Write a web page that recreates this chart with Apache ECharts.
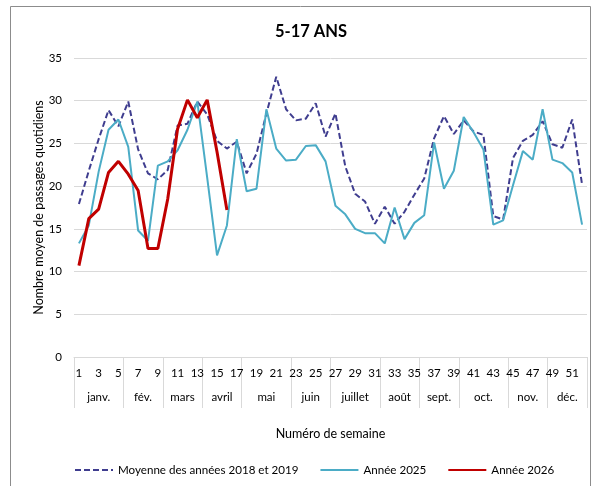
<!DOCTYPE html>
<html>
<head>
<meta charset="utf-8">
<script src="https://cdn.jsdelivr.net/npm/echarts@6/dist/echarts.min.js"></script>
<style>
  html, body { margin: 0; padding: 0; background: #fff; }
  #chart { width: 593px; height: 486px; }
</style>
</head>
<body>
<div id="chart"></div>
<script>
// semaines 1..52
var weeks = []
for (var i = 1; i <= 52; i++) weeks.push(String(i))

// moyenne des années 2018 et 2019
var avg1819 = [17.9, 21.8, 25.5, 28.9, 27.0, 29.9, 24.3, 21.5, 20.8, 21.9,
  27.1, 27.3, 29.9, 28.4, 25.3, 24.4, 25.2, 21.5, 23.8, 28.5,
  32.8, 29.0, 27.7, 27.9, 29.7, 25.8, 28.5, 22.3, 19.1, 18.2,
  15.6, 17.6, 15.6, 17.0, 19.0, 20.9, 25.6, 28.2, 26.1, 27.7,
  26.4, 26.0, 16.5, 16.1, 23.3, 25.3, 26.0, 27.6, 24.9, 24.5,
  27.8, 20.2]

var y2025 = [13.3, 15.4, 21.7, 26.6, 27.8, 24.6, 14.8, 13.6, 22.4, 22.9,
  24.2, 26.6, 29.9, 21.0, 11.9, 15.4, 25.5, 19.4, 19.7, 29.0,
  24.4, 23.0, 23.1, 24.7, 24.8, 22.9, 17.7, 16.7, 15.0, 14.5,
  14.5, 13.3, 17.5, 13.8, 15.7, 16.6, 25.1, 19.7, 21.8, 28.1,
  26.3, 24.3, 15.5, 16.0, 20.1, 24.1, 23.1, 29.0, 23.1, 22.7,
  21.6, 15.5]

var y2026 = [10.7, 16.2, 17.3, 21.6, 22.9, 21.4, 19.5, 12.7, 12.7, 18.5,
  26.7, 30.1, 28.0, 30.1, 24.0, 17.2]

// mois et première semaine de chaque mois
var months = ['janv.', 'fév.', 'mars', 'avril', 'mai', 'juin', 'juillet', 'août', 'sept.', 'oct.', 'nov.', 'déc.']
var monthFirstWeek = [1, 6, 10, 14, 18, 23, 27, 32, 36, 40, 45, 49, 53]

var yTicks = [0, 5, 10, 15, 20, 25, 30, 35]

var font = 'Lato, "Open Sans", sans-serif'

// bornes et centres des mois (en unités de semaine)
var monthBounds = monthFirstWeek.map(function (w) { return w - 0.5 })
var monthCenters = []
for (var m = 0; m < months.length; m++) {
  monthCenters.push((monthFirstWeek[m] + monthFirstWeek[m + 1] - 1) / 2)
}

var chart = echarts.init(document.getElementById('chart'))
chart.setOption({
  animation: false,
  textStyle: { fontFamily: font },
  title: {
    text: '5-17 ANS',
    left: 270,
    top: 18,
    textStyle: { fontFamily: font, fontSize: 16.5, fontWeight: 'bold', color: '#000' }
  },
  graphic: [{
    type: 'rect',
    shape: { x: 10.5, y: 6.5, width: 580, height: 500 },
    style: { fill: null, stroke: '#8c8c8c', lineWidth: 1 },
    silent: true
  }],
  legend: {
    left: 74,
    top: 464,
    width: 540,
    padding: 0,
    itemWidth: 38,
    itemHeight: 10,
    itemGap: 21,
    itemStyle: { opacity: 0 },
    textStyle: { fontFamily: font, fontSize: 11.6, color: '#000' },
    data: ['Moyenne des années 2018 et 2019', 'Année 2025', 'Année 2026']
  },
  grid: { left: 74, right: 6, top: 58, bottom: 129, containLabel: false },
  xAxis: [{
    type: 'category',
    data: weeks,
    boundaryGap: true,
    name: 'Numéro de semaine',
    nameLocation: 'middle',
    nameGap: 70,
    nameTextStyle: { fontFamily: font, fontSize: 12.5, color: '#000' },
    axisLine: { show: true, lineStyle: { color: '#d9d9d9', width: 1 } },
    axisTick: { show: false },
    axisLabel: { interval: 1, margin: 10, fontFamily: font, fontSize: 11.5, color: '#000' },
    splitLine: { show: false }
  }, {
    type: 'value',
    min: 0.5,
    max: 52.5,
    position: 'bottom',
    axisLine: { show: false },
    axisTick: {
      show: true,
      customValues: monthBounds,
      length: 51,
      lineStyle: { color: '#d9d9d9', width: 1 }
    },
    axisLabel: {
      show: true,
      customValues: monthCenters,
      margin: 34,
      fontFamily: font,
      fontSize: 11.5,
      color: '#000',
      formatter: function (v) {
        var k = monthCenters.indexOf(v)
        return k >= 0 ? months[k] : ''
      }
    },
    splitLine: { show: false }
  }],
  yAxis: {
    type: 'value',
    min: yTicks[0],
    max: yTicks[yTicks.length - 1],
    interval: 5,
    name: 'Nombre moyen de passages quotidiens',
    nameLocation: 'middle',
    nameGap: 29,
    nameMoveOverlap: false,
    nameTextStyle: { fontFamily: font, fontSize: 12.5, color: '#000' },
    axisLine: { show: false },
    axisTick: { show: false },
    axisLabel: { margin: 12, fontFamily: font, fontSize: 11.5, color: '#000' },
    splitLine: { lineStyle: { color: '#d9d9d9', width: 1 } }
  },
  series: [{
    name: 'Moyenne des années 2018 et 2019',
    type: 'line',
    xAxisIndex: 0,
    data: avg1819,
    symbol: 'none',
    color: '#3f3d8f',
    lineStyle: { color: '#3f3d8f', width: 2, type: [6, 3] }
  }, {
    name: 'Année 2025',
    type: 'line',
    xAxisIndex: 0,
    data: y2025,
    symbol: 'none',
    color: '#4bacc6',
    lineStyle: { color: '#4bacc6', width: 2 }
  }, {
    name: 'Année 2026',
    type: 'line',
    xAxisIndex: 0,
    data: y2026,
    symbol: 'none',
    color: '#c00000',
    lineStyle: { color: '#c00000', width: 3 },
    z: 3
  }]
})
</script>
</body>
</html>
